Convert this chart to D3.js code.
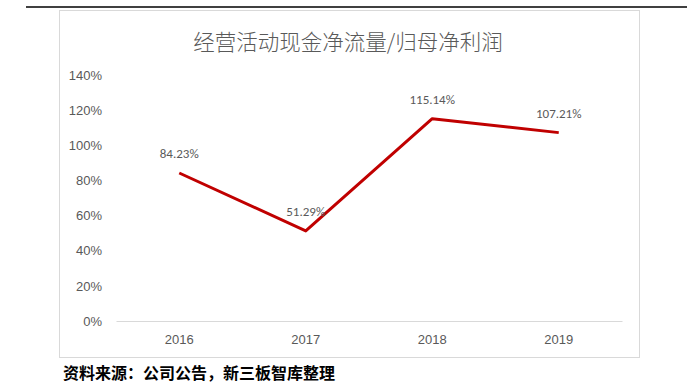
<!DOCTYPE html>
<html>
<head>
<meta charset="utf-8">
<script src="https://cdn.jsdelivr.net/npm/d3@7"></script>
<style>
  body { margin: 0; background: #fff; }
  svg { display: block; font-family: Calibri, Carlito, 'Liberation Sans', 'DejaVu Sans', sans-serif; }
</style>
</head>
<body>
<svg id="chart"></svg>
<script>
const years = ['2016', '2017', '2018', '2019'];
const ratios = [84.23, 51.29, 115.14, 107.21];
const yTicks = [0, 20, 40, 60, 80, 100, 120, 140];
const titleText = '经营活动现金净流量/归母净利润';
const sourceText = '资料来源：公司公告，新三板智库整理';

function drawChart(id) {
  const totalWidth = 687;
  const totalHeight = 383;
  const plot = { left: 116, right: 622, top: 75, bottom: 321 };
  const TEXT_GREY = '#595959';
  const LINE_RED = '#c00000';

  const svg = d3.select(id)
    .attr('width', totalWidth)
    .attr('height', totalHeight);

  /* page rule and chart frame */
  svg.append('line')
    .attr('x1', 26).attr('x2', totalWidth)
    .attr('y1', 7).attr('y2', 7)
    .attr('stroke', '#000')
    .attr('stroke-width', 1.6);

  svg.append('rect')
    .attr('x', 59.5).attr('y', 10.5)
    .attr('width', 580).attr('height', 347)
    .attr('fill', '#fff')
    .attr('stroke', '#d9d9d9')
    .attr('stroke-width', 1);

  svg.append('text')
    .attr('x', 348).attr('y', 40)
    .attr('text-anchor', 'middle')
    .attr('dominant-baseline', 'central')
    .attr('fill', TEXT_GREY)
    .style('font-family', "'Noto Sans CJK SC', sans-serif")
    .style('font-weight', 300)
    .style('font-size', '21.5px')
    .text(titleText);

  const xScale = d3.scaleBand(years, [plot.left, plot.right]);
  const yScale = d3.scaleLinear([0, 140], [plot.bottom, plot.top]);

  /* left axis: labels only */
  const leftAxis = d3.axisLeft(yScale)
    .tickValues(yTicks)
    .tickSize(0)
    .tickPadding(0)
    .tickFormat((d) => d + '%');
  svg.append('g')
    .attr('transform', `translate(${plot.left - 14}, 0)`)
    .call(leftAxis)
    .call((g) => g.select('.domain').remove())
    .selectAll('text')
    .attr('fill', TEXT_GREY)
    .style('font-size', '13px');

  /* bottom axis */
  const bottomAxis = d3.axisBottom(xScale).tickSize(0).tickPadding(14);
  svg.append('g')
    .attr('transform', `translate(0, ${plot.bottom})`)
    .call(bottomAxis)
    .call((g) => g.select('.domain')
      .attr('stroke', '#d9d9d9')
      .attr('stroke-width', 1.2))
    .selectAll('text')
    .attr('fill', TEXT_GREY)
    .style('font-size', '13px');

  const cx = (d, i) => xScale(years[i]) + xScale.bandwidth() / 2;

  svg.append('path')
    .datum(ratios)
    .attr('fill', 'none')
    .attr('stroke', LINE_RED)
    .attr('stroke-width', 3)
    .attr('stroke-linejoin', 'round')
    .attr('d', d3.line().x(cx).y((d) => yScale(d)));

  svg.append('g')
    .selectAll('text')
    .data(ratios)
    .enter()
    .append('text')
    .attr('x', cx)
    .attr('y', (d) => yScale(d) - 19)
    .attr('text-anchor', 'middle')
    .attr('dominant-baseline', 'central')
    .attr('fill', TEXT_GREY)
    .style('font-size', '13px')
    .text((d) => d.toFixed(2) + '%');

  svg.append('text')
    .attr('x', 63).attr('y', 372)
    .attr('dominant-baseline', 'central')
    .attr('fill', '#000')
    .style('font-family', "'Noto Sans CJK SC', sans-serif")
    .style('font-weight', 700)
    .style('font-size', '16px')
    .text(sourceText);
}

drawChart('#chart');
</script>
</body>
</html>
